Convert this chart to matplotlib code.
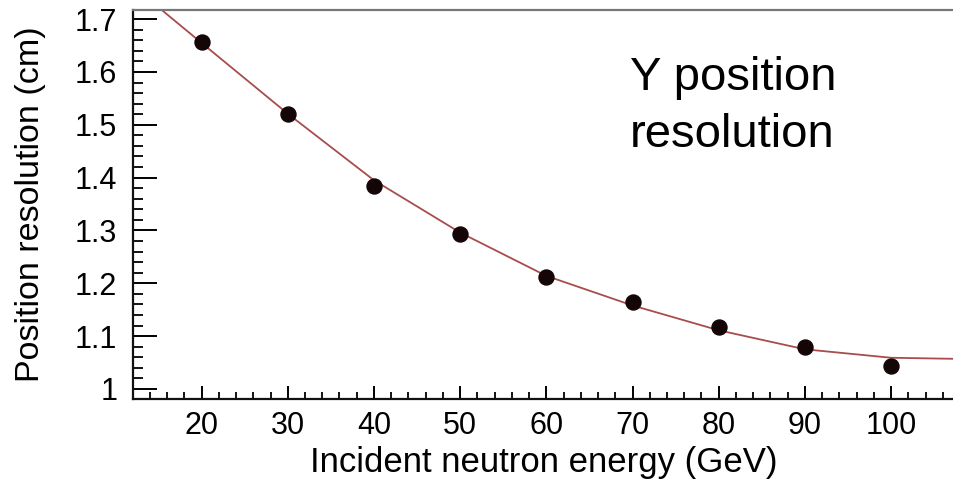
import matplotlib
matplotlib.use("Agg")
import matplotlib.pyplot as plt
from matplotlib.ticker import MultipleLocator

plt.rcParams['font.family'] = ['Liberation Sans', 'DejaVu Sans']

# measured points
energy = [20, 30, 40, 50, 60, 70, 80, 90, 100]
resolution = [1.657, 1.520, 1.384, 1.294, 1.211, 1.164, 1.117, 1.079, 1.043]

# fit curve
fit_energy = [15.4, 20, 30, 40, 50, 60, 70, 80, 90, 100, 107.3]
fit_resolution = [1.717, 1.655, 1.521, 1.395, 1.296, 1.214, 1.158, 1.111, 1.075, 1.059, 1.057]

fig = plt.figure(figsize=(9.54, 4.83), dpi=100)
ax = fig.add_axes([0.139, 0.174, 0.861, 0.805])

ax.plot(fit_energy, fit_resolution, color='#a84c4c', linewidth=1.3, zorder=2)
ax.plot(energy, resolution, 'o', color='#140606', markersize=10.8, zorder=3)

ax.set_xlim(12, 107.3)
ax.set_ylim(0.981, 1.717)

ax.xaxis.set_minor_locator(MultipleLocator(2))
ax.yaxis.set_minor_locator(MultipleLocator(0.02))
ax.set_yticks([1.0, 1.1, 1.2, 1.3, 1.4, 1.5, 1.6, 1.7])
ax.set_yticklabels(['1', '1.1', '1.2', '1.3', '1.4', '1.5', '1.6', '1.7'])
ax.set_xticks([20, 30, 40, 50, 60, 70, 80, 90, 100])

ax.tick_params(axis='y', which='major', direction='in', length=17, width=1.4, pad=11, labelsize=22)
ax.tick_params(axis='y', which='minor', direction='in', length=7.5, width=1.3)
ax.tick_params(axis='x', which='major', direction='in', length=9.5, width=1.4, pad=9, labelsize=22)
ax.tick_params(axis='x', which='minor', direction='in', length=5, width=1.3)

for s in ['left', 'bottom']:
    ax.spines[s].set_linewidth(1.6)
    ax.spines[s].set_color('#111111')
ax.spines['top'].set_color('#777777')
ax.spines['top'].set_linewidth(1.6)
ax.spines['right'].set_visible(False)

ax.set_xlabel('Incident neutron energy (GeV)', fontsize=25, labelpad=3)
ax.set_ylabel('Position resolution (cm)', fontsize=24.5, labelpad=21)

fig.text(0.660, 1 - 56 / 483, 'Y position\nresolution', fontsize=34, va='top', ha='left', linespacing=1.38)

fig.savefig('out.png', dpi=100)
